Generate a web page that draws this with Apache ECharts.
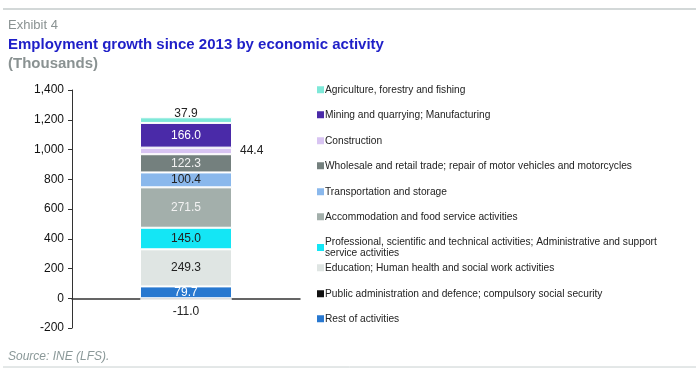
<!DOCTYPE html>
<html>
<head>
<meta charset="utf-8">
<script src="https://cdn.jsdelivr.net/npm/echarts@6/dist/echarts.min.js"></script>
<style>
  html, body { margin: 0; padding: 0; background: #fff; }
  #chart { width: 696px; height: 375px; }
</style>
</head>
<body>
<div id="chart"></div>
<script>
  // stacked from bottom to top
  var names = [
    'Rest of activities',
    'Public administration and defence; compulsory social security',
    'Education; Human health and social work activities',
    'Professional, scientific and technical activities; Administrative and support\nservice activities',
    'Accommodation and food service activities',
    'Transportation and storage',
    'Wholesale and retail trade; repair of motor vehicles and motorcycles',
    'Construction',
    'Mining and quarrying; Manufacturing',
    'Agriculture, forestry and fishing'
  ];
  var values = [79.7, -11.0, 249.3, 145.0, 271.5, 100.4, 122.3, 44.4, 166.0, 37.9];
  var colors = ['#2878d0', '#111111', '#dfe5e3', '#14e6f5', '#a3afab', '#8ab8ec', '#74807e', '#d8c4f2', '#4a2aa8', '#7ee8d8'];
  var labelColors = ['#fff', '#222', '#222', '#222', '#f2f2f2', '#222', '#f2f2f2', '#222', '#fff', '#222'];
  var labelPos = ['inside', 'bottom', 'inside', 'inside', 'inside', 'inside', 'inside', 'right', 'inside', 'top'];
  var labelDist = [2, 6, 2, 2, 2, 2, 2, 8, 2, -2];
  var category = ['2013-'];

  var chart = echarts.init(document.getElementById('chart'));

  var series = names.map(function (n, i) {
    return {
      name: n,
      type: 'bar',
      stack: 'total',
      barWidth: 92,
      data: [values[i]],
      itemStyle: { color: colors[i], borderColor: '#fff', borderWidth: 1 },
      label: {
        show: true,
        position: labelPos[i],
        distance: labelDist[i],
        color: labelColors[i],
        fontSize: 12,
        fontFamily: 'Liberation Sans',
        formatter: function (p) { return p.value.toFixed(1); }
      }
    };
  });

  // legend top to bottom = reverse stack order
  var legendTops = [79, 104, 130, 155, 181, 206, 231, 257, 283, 308];
  var legends = names.slice().reverse().map(function (n, i) {
    return {
      data: [n],
      left: 312,
      top: legendTops[i],
      itemWidth: 7,
      itemHeight: 7,
      itemGap: 0,
      selectedMode: false,
      icon: 'rect',
      itemStyle: { borderWidth: 0 },
      textStyle: { fontSize: 10.2, color: '#222', fontFamily: 'Liberation Sans', padding: [0, 0, 0, -4], lineHeight: 11.5 }
    };
  });

  chart.setOption({
    animation: false,
    title: [
      { text: 'Exhibit 4', left: 3, top: 14, textStyle: { fontSize: 13, fontWeight: 'normal', color: '#8a9292', fontFamily: 'Liberation Sans' } },
      { text: 'Employment growth since 2013 by economic activity', left: 3, top: 32, textStyle: { fontSize: 15, fontWeight: 'bold', color: '#1f1fc8', fontFamily: 'Liberation Sans' } },
      { text: '(Thousands)', left: 3, top: 51, textStyle: { fontSize: 15, fontWeight: 'bold', color: '#8a9292', fontFamily: 'Liberation Sans' } },
      { text: 'Source: INE (LFS).', left: 3, top: 346, textStyle: { fontSize: 12, fontWeight: 'normal', fontStyle: 'italic', color: '#8a9898', fontFamily: 'Liberation Sans' } }
    ],
    graphic: [
      { type: 'line', shape: { x1: 3, y1: 9, x2: 696, y2: 9 }, style: { stroke: '#d3d8d8', lineWidth: 2 } },
      { type: 'line', shape: { x1: 3, y1: 367, x2: 696, y2: 367 }, style: { stroke: '#c8d0d0', lineWidth: 1 } }
    ],
    legend: legends,
    grid: { left: 72, right: 396, top: 90, bottom: 47 },
    xAxis: {
      type: 'category',
      data: category,
      axisLine: { onZero: true, lineStyle: { color: '#333', width: 1.5 } },
      axisTick: { show: false },
      axisLabel: { show: false }
    },
    yAxis: {
      type: 'value',
      min: -200,
      max: 1400,
      interval: 200,
      splitLine: { show: false },
      axisLine: { show: true, lineStyle: { color: '#333' } },
      axisTick: { show: true, length: 4, lineStyle: { color: '#333' } },
      axisLabel: {
        fontSize: 12,
        color: '#111',
        margin: 8,
        fontFamily: 'Liberation Sans',
        formatter: function (v) { return v.toLocaleString('en-US'); }
      }
    },
    series: series
  });
</script>
</body>
</html>
